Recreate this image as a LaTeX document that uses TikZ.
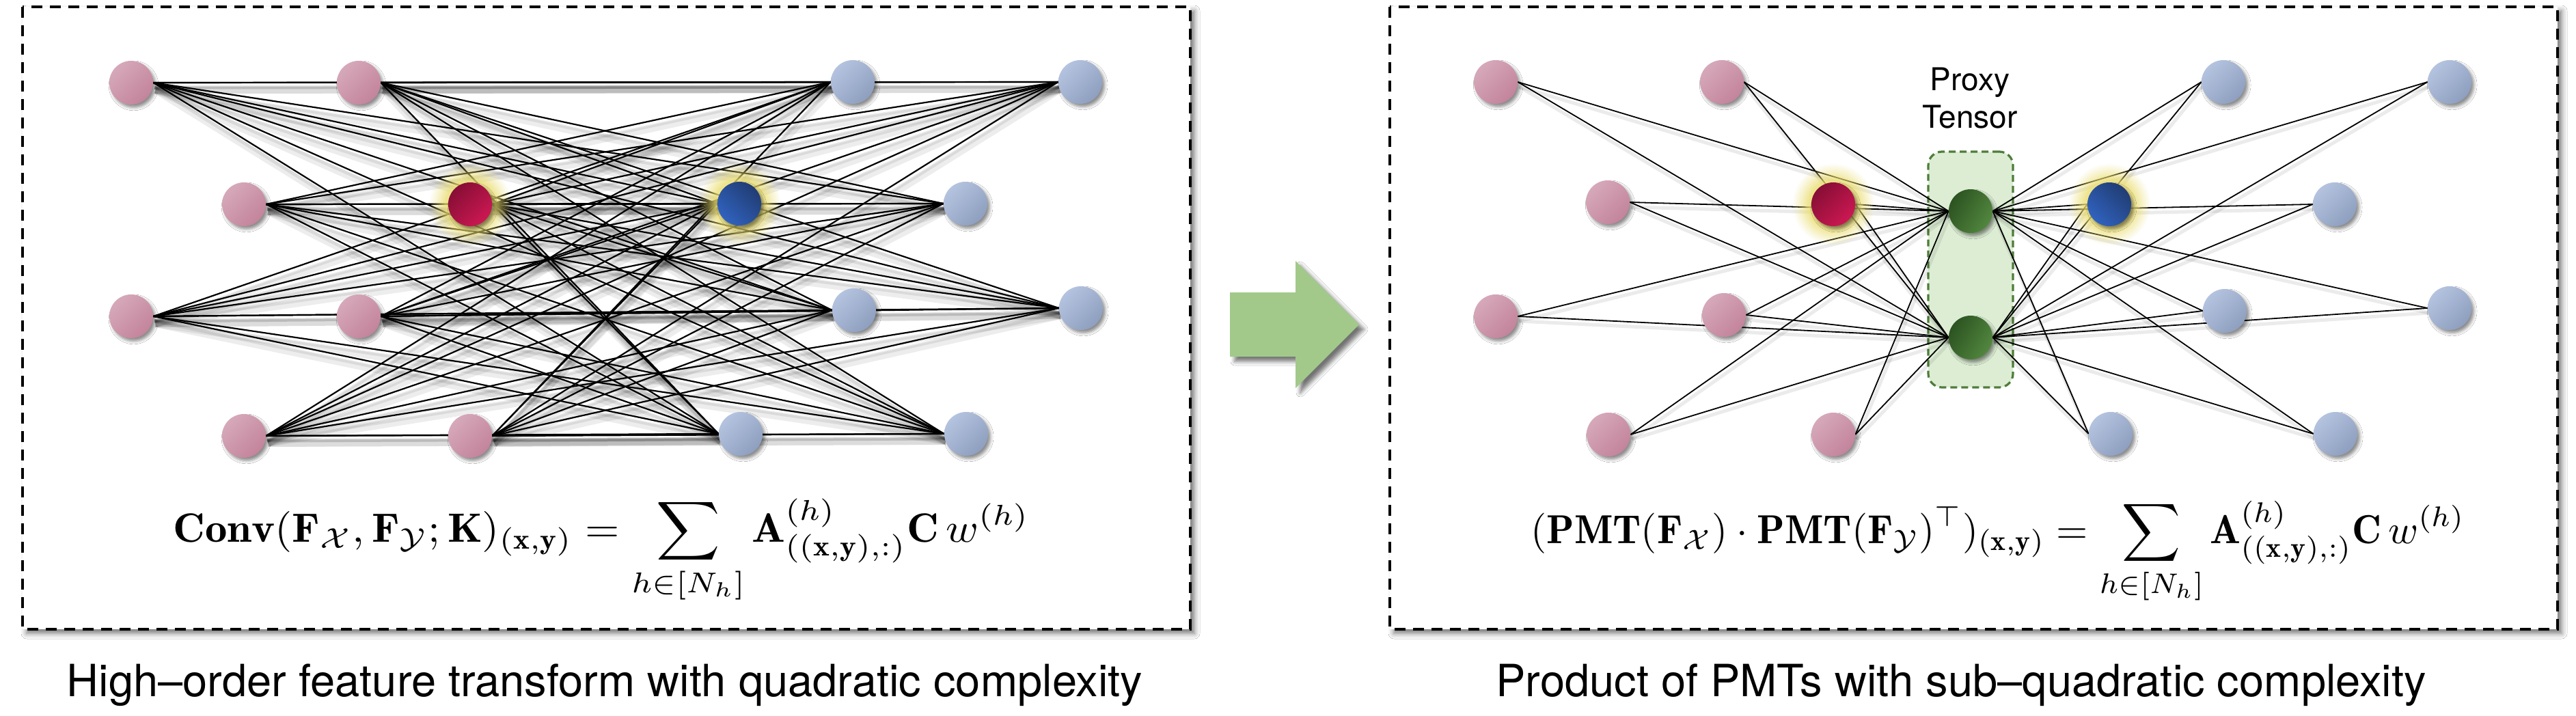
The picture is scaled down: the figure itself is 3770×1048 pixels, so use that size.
\documentclass[tikz,border=0pt]{standalone}
\usepackage{amsmath,amssymb}
\usepackage{graphicx}
\usepackage{fontspec}
\setsansfont{TeX Gyre Heros}
\usetikzlibrary{shadows.blur,fadings}
\definecolor{pinkL}{HTML}{D6A8BA}
\definecolor{pinkD}{HTML}{C3849B}
\definecolor{redD}{HTML}{870E36}
\definecolor{redL}{HTML}{CC1852}
\definecolor{blueL}{HTML}{B4C3DF}
\definecolor{blueD}{HTML}{8E9FBF}
\definecolor{bhlD}{HTML}{213D74}
\definecolor{bhlL}{HTML}{3062BE}
\definecolor{greenD}{HTML}{2C5321}
\definecolor{greenL}{HTML}{52873F}
\definecolor{glowc}{HTML}{EADD6E}
\definecolor{arrowgreen}{HTML}{A2C98A}
\definecolor{proxyL}{HTML}{DCEDD4}
\definecolor{proxyD}{HTML}{4F7D3A}
\pgfdeclarelayer{bg}
\pgfdeclarelayer{edges}
\pgfdeclarelayer{glowl}
\pgfsetlayers{bg,edges,glowl,main}
\pgfdeclareradialshading{glowshade}{\pgfpointorigin}{color(0bp)=(white); color(15bp)=(white!85!black); color(20bp)=(white!40!black); color(25bp)=(black); color(50bp)=(black)}
\pgfdeclarefading{glowfade}{\pgfuseshading{glowshade}}
\tikzset{
  nd/.style={circle, minimum size=32pt, inner sep=0pt,
    blur shadow={shadow xshift=1.8pt, shadow yshift=-2.2pt, shadow blur radius=2.2pt, shadow opacity=45}},
  pinknd/.style={nd, shading=axis, top color=pinkL, bottom color=pinkD, shading angle=45},
  rednd/.style={nd, shading=axis, top color=redD, bottom color=redL, shading angle=45},
  bluend/.style={nd, shading=axis, top color=blueL, bottom color=blueD, shading angle=45},
  bhlnd/.style={nd, shading=axis, top color=bhlD, bottom color=bhlL, shading angle=-45},
  greennd/.style={nd, shading=axis, top color=greenD, bottom color=greenL, shading angle=60},
  edgeln/.style={line width=1.1pt, black},
  edgesh/.style={line width=5pt, black, opacity=0.07},
  edgesh2/.style={line width=2.5pt, black, opacity=0.08},
  panel/.style={draw=black, line width=1.75pt, dash pattern=on 8pt off 5.5pt, fill=white,
    blur shadow={shadow xshift=3pt, shadow yshift=-3pt, shadow blur radius=4pt, shadow opacity=55}},
  caption/.style={anchor=base, inner sep=0pt, font=\sffamily\fontsize{32.5}{39}\selectfont},
  ptlabel/.style={anchor=base, inner sep=0pt, font=\sffamily\fontsize{23}{27.5}\selectfont},
  glowfill/.style={fill=glowc, path fading=glowfade, opacity=0.9}
}
\begin{document}
\begin{tikzpicture}[x=0.5pt,y=-0.5pt]
\useasboundingbox (0,0) rectangle (3770,1048);

% ---------- left panel nodes ----------
\node[pinknd] (lp1) at (192,121) {};
\node[pinknd] (lp2) at (525,121) {};
\node[pinknd] (lp3) at (357,299) {};
\node[rednd]  (lp4) at (688,299) {};
\node[pinknd] (lp5) at (192,463) {};
\node[pinknd] (lp6) at (525,463) {};
\node[pinknd] (lp7) at (357,638) {};
\node[pinknd] (lp8) at (688,638) {};
\node[bluend] (lb1) at (1248,120) {};
\node[bluend] (lb2) at (1581,120) {};
\node[bhlnd]  (lb3) at (1082,298) {};
\node[bluend] (lb4) at (1413,298) {};
\node[bluend] (lb5) at (1250,454) {};
\node[bluend] (lb6) at (1582,451) {};
\node[bluend] (lb7) at (1084,635) {};
\node[bluend] (lb8) at (1414,635) {};

% ---------- right panel nodes ----------
\node[pinknd] (rp1) at (2189,120) {};
\node[pinknd] (rp2) at (2520,120) {};
\node[pinknd] (rp3) at (2353,296) {};
\node[rednd]  (rp4) at (2683,299) {};
\node[pinknd] (rp5) at (2189,463) {};
\node[pinknd] (rp6) at (2523,461) {};
\node[pinknd] (rp7) at (2354,636) {};
\node[pinknd] (rp8) at (2683,636) {};
\node[greennd] (rg1) at (2884,309) {};
\node[greennd] (rg2) at (2884,494) {};
\node[bluend] (rb1) at (3254,120) {};
\node[bluend] (rb2) at (3585,120) {};
\node[bhlnd]  (rb3) at (3087,299) {};
\node[bluend] (rb4) at (3417,299) {};
\node[bluend] (rb5) at (3256,455) {};
\node[bluend] (rb6) at (3585,451) {};
\node[bluend] (rb7) at (3089,635) {};
\node[bluend] (rb8) at (3418,635) {};

% ---------- labels & formulas ----------
\node[ptlabel] (pt1) at (2883,133) {Proxy};
\node[ptlabel] (pt2) at (2883,188) {Tensor};

\node[inner sep=0pt] (f1) at (880,807) {\resizebox*{626.5pt}{77pt}{$\displaystyle
  \mathbf{Conv}(\mathbf{F}_{\mathcal{X}},\mathbf{F}_{\mathcal{Y}};\mathbf{K})_{(\mathbf{x},\mathbf{y})}
  = \sum_{h\in[N_h]} \mathbf{A}^{(h)}_{((\mathbf{x},\mathbf{y}),:)}\mathbf{C}\,w^{(h)}$}};
\node[inner sep=0pt] (f2) at (2924,809) {\resizebox*{683.5pt}{76pt}{$\displaystyle
  (\mathbf{PMT}(\mathbf{F}_{\mathcal{X}})\cdot\mathbf{PMT}(\mathbf{F}_{\mathcal{Y}})^{\top})_{(\mathbf{x},\mathbf{y})}
  = \sum_{h\in[N_h]} \mathbf{A}^{(h)}_{((\mathbf{x},\mathbf{y}),:)}\mathbf{C}\,w^{(h)}$}};

\node[caption] (cap1) at (885,1019) {High–order feature transform with quadratic complexity};
\node[caption] (cap2) at (2870,1019) {Product of PMTs with sub–quadratic complexity};

% ---------- background: panels, arrow, proxy box ----------
\begin{pgfonlayer}{bg}
  \fill[white] (0,0) rectangle (3770,1048);
  \path[panel] (33,10) rectangle (1742,921);
  \path[panel] (2034,10) rectangle (3743,921);
  \fill[arrowgreen, blur shadow={shadow xshift=3.5pt, shadow yshift=-3.5pt, shadow blur radius=3pt, shadow opacity=55}]
    (1800,428) -- (1896,428) -- (1896,382) -- (1989,475) -- (1896,568) -- (1896,522) -- (1800,522) -- cycle;
  \node[draw=proxyD, fill=proxyL, line width=1.6pt, dash pattern=on 5pt off 3pt,
        rounded corners=10pt, minimum width=62pt, minimum height=172.5pt, inner sep=0pt]
        (pbox) at (2884,394.5) {};
\end{pgfonlayer}

% ---------- edges ----------
\begin{pgfonlayer}{edges}
  \foreach \i in {1,...,8}{
    \foreach \j in {1,...,8}{
      \draw[edgesh]  ([shift={(3,11)}]lp\i.east) -- ([shift={(3,11)}]lb\j.west);
      \draw[edgesh2] ([shift={(2,7)}]lp\i.east) -- ([shift={(2,7)}]lb\j.west);
    }
  }
  \foreach \i in {1,...,8}{
    \foreach \j in {1,...,8}{
      \draw[edgeln] (lp\i.east) -- (lb\j.west);
    }
  }
  \foreach \i in {1,...,8}{
    \foreach \g in {1,2}{
      \draw[edgesh2] ([shift={(2,7)}]rp\i.east) -- ([shift={(2,7)}]rg\g.west);
      \draw[edgesh2] ([shift={(2,7)}]rb\i.west) -- ([shift={(2,7)}]rg\g.east);
    }
  }
  \foreach \i in {1,...,8}{
    \foreach \g in {1,2}{
      \draw[edgeln, line width=0.9pt] (rp\i.east) -- (rg\g.west);
      \draw[edgeln, line width=0.9pt] (rb\i.west) -- (rg\g.east);
    }
  }
\end{pgfonlayer}

% ---------- glows ----------
\begin{pgfonlayer}{glowl}
  \fill[glowfill] (lp4.center) circle[radius=30pt];
  \fill[glowfill] (lb3.center) circle[radius=30pt];
  \fill[glowfill] (rp4.center) circle[radius=30pt];
  \fill[glowfill] (rb3.center) circle[radius=30pt];
\end{pgfonlayer}
\end{tikzpicture}
\end{document}
